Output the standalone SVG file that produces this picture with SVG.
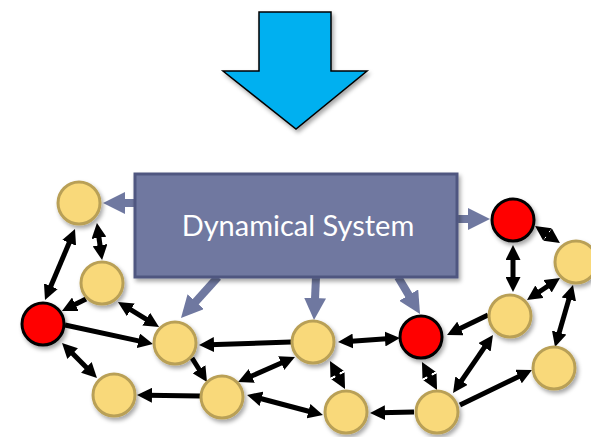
<svg xmlns="http://www.w3.org/2000/svg" width="591" height="437" viewBox="0 0 591 437">
<style>
.y{fill:#f9d97a;stroke:#b9a057;stroke-width:3;filter:url(#sh)}
.r{fill:#ff0000;stroke:#000;stroke-width:3;filter:url(#sh)}
.e{fill:none;stroke:#000;stroke-width:5}
.b{fill:none;stroke:#6f78a0;stroke-width:8}
.bi{marker-start:url(#ah);marker-end:url(#ah)}
.one{marker-end:url(#ah)}
.bl{marker-end:url(#bh)}
</style>
<defs>
<filter id="sh" x="-30%" y="-30%" width="170%" height="170%">
<feDropShadow dx="2" dy="3" stdDeviation="2" flood-color="#000" flood-opacity="0.35"/>
</filter>
<marker id="ah" markerUnits="userSpaceOnUse" markerWidth="15" markerHeight="15" refX="5" refY="7.5" orient="auto-start-reverse">
<path d="M0,0 L15,7.5 L0,15 z" fill="#000"/>
</marker>
<marker id="bh" markerUnits="userSpaceOnUse" markerWidth="22" markerHeight="22" refX="12" refY="11" orient="auto">
<path d="M0,0 L22,11 L0,22 z" fill="#6f78a0"/>
</marker>
</defs>
<rect width="591" height="437" fill="#fff"/>
<g id="bigArrow">
<polygon points="259,12 331,12 331,71 367,71 296,129 223,71 259,71" fill="#00b0f0" stroke="#000" stroke-width="1.5" filter="url(#sh)"/>
</g>
<g id="connectors">
<path class="b bl" d="M134,203 L113,203"/>
<path class="b bl" d="M218,277 L187.7,310.6"/>
<path class="b bl" d="M316,277 L314.5,310"/>
<path class="b bl" d="M398,277 L414.9,305.4"/>
<path class="b bl" d="M457,219 L480,219"/>
<path class="e bi" d="M71.1,238.2 L48.9,290.8"/>
<path class="e bi" d="M98.3,232.9 L100.7,250.1"/>
<path class="e one" d="M86,299 L70.9,306.5"/>
<path class="e bi" d="M126.5,307.2 L150.5,321.8"/>
<path class="e one" d="M65,325 L143.2,341.9"/>
<path class="e bi" d="M69.1,350.1 L89.9,370.9"/>
<path class="e one" d="M200,396 L147,395.2"/>
<path class="e one" d="M192,358 L201.7,373.5"/>
<path class="e one" d="M291,342 L209,344.7"/>
<path class="e bi" d="M285.8,361 L247.2,378"/>
<path class="e bi" d="M256.7,397.5 L313.3,412.5"/>
<path class="e bi" d="M334.7,369.8 L340.3,380.2"/>
<path class="e bi" d="M348,341.4 L390,338.6"/>
<path class="e one" d="M414,412 L380,412.8"/>
<path class="e bi" d="M543.3,231.6 L551.7,237.4"/>
<path class="e bi" d="M513,255 L513,282"/>
<path class="e bi" d="M535.3,294.5 L551.7,283.5"/>
<path class="e bi" d="M570.2,294.6 L557.8,337.4"/>
<path class="e one" d="M488,315 L456,330.6"/>
<path class="e bi" d="M426.7,370.8 L432.3,381.2"/>
<path class="e bi" d="M487.3,343.2 L458.7,384.8"/>
<path class="e one" d="M460,405 L523,374.4"/>
</g>
<g id="dynamicalSystem">
<rect x="135" y="174" width="322" height="103" fill="#6f78a0" stroke="#4f5680" stroke-width="3" filter="url(#sh)"/>
<text x="298" y="236" font-family="Lato, 'Open Sans', sans-serif" font-size="29" fill="#fff" text-anchor="middle">Dynamical System</text>
</g>
<g id="n1"><circle class="y" cx="79" cy="203" r="21"/></g>
<g id="n2"><circle class="y" cx="102" cy="283" r="21"/></g>
<g id="r1"><circle class="r" cx="43" cy="324" r="21"/></g>
<g id="n3"><circle class="y" cx="175" cy="343" r="21"/></g>
<g id="n4"><circle class="y" cx="114" cy="395" r="21"/></g>
<g id="n5"><circle class="y" cx="222" cy="397" r="21"/></g>
<g id="n6"><circle class="y" cx="313" cy="342" r="21"/></g>
<g id="n7"><circle class="y" cx="346" cy="412" r="21"/></g>
<g id="r2"><circle class="r" cx="421" cy="337" r="21"/></g>
<g id="n11"><circle class="y" cx="437" cy="412" r="21"/></g>
<g id="n9"><circle class="y" cx="510" cy="316" r="21"/></g>
<g id="r3"><circle class="r" cx="513" cy="220" r="21"/></g>
<g id="n8"><circle class="y" cx="576" cy="262" r="21"/></g>
<g id="n10"><circle class="y" cx="554" cy="368" r="21"/></g>
</svg>
